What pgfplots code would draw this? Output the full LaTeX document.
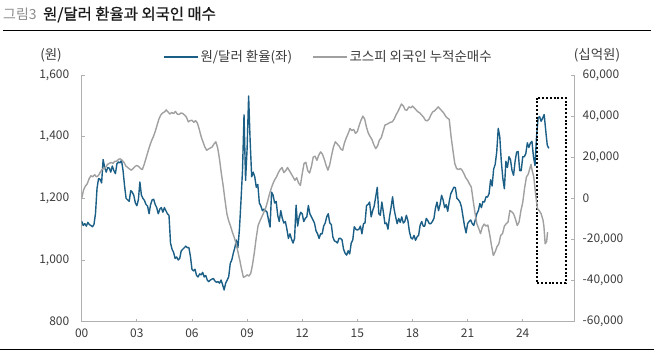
\documentclass[border=0pt]{standalone}
\usepackage{pgfplots}
\pgfplotsset{compat=1.18}
\usepackage{pgfplotstable}
\usepackage{fontspec}
\setmainfont{Noto Sans CJK KR}
\newfontfamily\titlefont[FakeBold=1.0]{Noto Sans CJK KR}
\definecolor{fxblue}{RGB}{27,94,134}
\definecolor{kgray}{RGB}{160,160,160}
\definecolor{axgray}{RGB}{176,176,176}
\definecolor{txt}{RGB}{60,60,60}

\pgfplotstableread[row sep=\\]{
t v\\
0 1126\\ 1 1112\\ 2 1118\\ 3 1110\\ 4 1122\\ 5 1115\\ 6 1112\\ 7 1108\\ 8 1115\\ 9 1150\\ 10 1232\\ 11 1264\\
12 1262\\ 13 1250\\ 14 1326\\ 15 1300\\ 16 1285\\ 17 1300\\ 18 1298\\ 19 1285\\ 20 1305\\ 21 1290\\ 22 1280\\ 23 1312\\
24 1318\\ 25 1315\\ 26 1323\\ 27 1290\\ 28 1240\\ 29 1200\\ 30 1195\\ 31 1190\\ 32 1225\\ 33 1220\\ 34 1210\\ 35 1186\\
36 1176\\ 37 1195\\ 38 1253\\ 39 1210\\ 40 1200\\ 41 1193\\ 42 1180\\ 43 1175\\ 44 1150\\ 45 1180\\ 46 1195\\ 47 1197\\
48 1180\\ 49 1170\\ 50 1150\\ 51 1165\\ 52 1170\\ 53 1155\\ 54 1170\\ 55 1160\\ 56 1150\\ 57 1145\\ 58 1055\\ 59 1035\\
60 1025\\ 61 1005\\ 62 1010\\ 63 1000\\ 64 1005\\ 65 1030\\ 66 1035\\ 67 1040\\ 68 1045\\ 69 1040\\ 70 1040\\ 71 1012\\
72 970\\ 73 965\\ 74 970\\ 75 950\\ 76 945\\ 77 955\\ 78 952\\ 79 960\\ 80 945\\ 81 950\\ 82 935\\ 83 930\\
84 935\\ 85 938\\ 86 940\\ 87 932\\ 88 928\\ 89 930\\ 90 925\\ 91 935\\ 92 920\\ 93 903\\ 94 925\\ 95 935\\
96 946\\ 97 989\\ 98 1000\\ 99 1022\\ 100 1040\\ 101 1065\\ 102 1040\\ 103 1100\\ 104 1190\\ 105 1290\\ 106 1471\\ 107 1258\\
108 1360\\ 109 1532\\ 110 1385\\ 111 1270\\ 112 1285\\ 113 1270\\ 114 1236\\ 115 1245\\ 116 1185\\ 117 1175\\ 118 1160\\ 119 1165\\
120 1160\\ 121 1155\\ 122 1130\\ 123 1107\\ 124 1220\\ 125 1210\\ 126 1185\\ 127 1190\\ 128 1145\\ 129 1125\\ 130 1160\\ 131 1135\\
132 1120\\ 133 1125\\ 134 1100\\ 135 1070\\ 136 1085\\ 137 1068\\ 138 1055\\ 139 1070\\ 140 1178\\ 141 1110\\ 142 1140\\ 143 1155\\
144 1150\\ 145 1125\\ 146 1135\\ 147 1140\\ 148 1177\\ 149 1150\\ 150 1140\\ 151 1130\\ 152 1120\\ 153 1095\\ 154 1085\\ 155 1070\\
156 1085\\ 157 1085\\ 158 1110\\ 159 1120\\ 160 1140\\ 161 1150\\ 162 1120\\ 163 1115\\ 164 1075\\ 165 1062\\ 166 1060\\ 167 1055\\
168 1070\\ 169 1070\\ 170 1065\\ 171 1035\\ 172 1022\\ 173 1016\\ 174 1030\\ 175 1020\\ 176 1055\\ 177 1065\\ 178 1108\\ 179 1100\\
180 1097\\ 181 1100\\ 182 1110\\ 183 1085\\ 184 1118\\ 185 1120\\ 186 1177\\ 187 1180\\ 188 1188\\ 189 1140\\ 190 1160\\ 191 1175\\
192 1205\\ 193 1236\\ 194 1150\\ 195 1145\\ 196 1188\\ 197 1155\\ 198 1118\\ 199 1120\\ 200 1100\\ 201 1140\\ 202 1170\\ 203 1205\\
204 1165\\ 205 1140\\ 206 1118\\ 207 1135\\ 208 1122\\ 209 1140\\ 210 1120\\ 211 1125\\ 212 1145\\ 213 1128\\ 214 1092\\ 215 1072\\
216 1068\\ 217 1080\\ 218 1064\\ 219 1075\\ 220 1080\\ 221 1113\\ 222 1125\\ 223 1110\\ 224 1110\\ 225 1135\\ 226 1128\\ 227 1118\\
228 1118\\ 229 1125\\ 230 1135\\ 231 1168\\ 232 1188\\ 233 1160\\ 234 1180\\ 235 1210\\ 236 1195\\ 237 1170\\ 238 1180\\ 239 1158\\
240 1190\\ 241 1215\\ 242 1225\\ 243 1236\\ 244 1235\\ 245 1200\\ 246 1195\\ 247 1188\\ 248 1172\\ 249 1140\\ 250 1110\\ 251 1088\\
252 1118\\ 253 1125\\ 254 1130\\ 255 1118\\ 256 1112\\ 257 1130\\ 258 1150\\ 259 1160\\ 260 1183\\ 261 1170\\ 262 1190\\ 263 1188\\
264 1205\\ 265 1204\\ 266 1215\\ 267 1260\\ 268 1240\\ 269 1295\\ 270 1310\\ 271 1350\\ 272 1427\\ 273 1400\\ 274 1320\\ 275 1265\\
276 1231\\ 277 1320\\ 278 1300\\ 279 1335\\ 280 1325\\ 281 1290\\ 282 1275\\ 283 1320\\ 284 1350\\ 285 1352\\ 286 1290\\ 287 1290\\
288 1335\\ 289 1335\\ 290 1345\\ 291 1380\\ 292 1365\\ 293 1380\\ 294 1385\\ 295 1335\\ 296 1306\\ 297 1400\\ 298 1460\\ 299 1465\\
300 1450\\ 301 1460\\ 302 1472\\ 303 1420\\ 304 1373\\ 305 1362\\
}\usd

\pgfplotstableread[row sep=\\]{
x v\\
0.0 0\\ 0.1 4000\\ 0.2 6000\\ 0.3 7000\\ 0.4 9500\\ 0.5 11000\\ 0.6 10500\\ 0.7 11500\\ 0.8 10500\\ 0.9 11000\\
1.0 12500\\ 1.1 14000\\ 1.2 14500\\ 1.3 15000\\ 1.4 16500\\ 1.5 17000\\ 1.6 17500\\ 1.7 17000\\ 1.8 18000\\ 1.9 18000\\
2.0 19000\\ 2.1 19200\\ 2.2 18500\\ 2.3 17500\\ 2.4 15800\\ 2.5 15000\\ 2.6 14300\\ 2.7 13700\\ 2.8 14500\\ 2.9 15500\\
3.0 16000\\ 3.1 15500\\ 3.2 14500\\ 3.3 14000\\ 3.4 16500\\ 3.5 19500\\ 3.6 22500\\ 3.7 25500\\ 3.8 28000\\ 3.9 30000\\
4.0 32500\\ 4.1 35500\\ 4.2 38500\\ 4.3 40500\\ 4.4 41500\\ 4.5 42000\\ 4.6 43000\\ 4.7 42000\\ 4.8 41000\\ 4.9 41800\\
5.0 41200\\ 5.1 42300\\ 5.2 41000\\ 5.3 40800\\ 5.4 41500\\ 5.5 41300\\ 5.6 40500\\ 5.7 39500\\ 5.8 37200\\ 5.9 37800\\
6.0 38000\\ 6.1 37000\\ 6.2 37800\\ 6.3 36500\\ 6.4 33500\\ 6.5 30000\\ 6.6 27500\\ 6.7 25000\\ 6.8 23400\\ 6.9 24000\\
7.0 24500\\ 7.1 25000\\ 7.2 26500\\ 7.3 27500\\ 7.4 24500\\ 7.5 19000\\ 7.6 12000\\ 7.7 6000\\ 7.8 -1000\\ 7.9 -7500\\
8.0 -11000\\ 8.1 -13500\\ 8.2 -16500\\ 8.3 -19000\\ 8.4 -22000\\ 8.5 -26000\\ 8.6 -30000\\ 8.7 -34500\\ 8.8 -38400\\ 8.9 -38000\\
9.0 -37200\\ 9.1 -37800\\ 9.2 -36500\\ 9.3 -32000\\ 9.4 -26000\\ 9.5 -19000\\ 9.6 -13200\\ 9.7 -11000\\ 9.8 -9000\\ 9.9 -7000\\
10.0 -5000\\ 10.1 -2000\\ 10.2 1500\\ 10.3 4500\\ 10.4 7000\\ 10.5 9000\\ 10.6 10400\\ 10.7 12500\\ 10.8 14000\\ 10.9 15000\\
11.0 12500\\ 11.1 13500\\ 11.2 15000\\ 11.3 13500\\ 11.4 12000\\ 11.5 10400\\ 11.6 8800\\ 11.7 10000\\ 11.8 7500\\ 11.9 6300\\
12.0 12000\\ 12.1 17000\\ 12.2 17500\\ 12.3 13500\\ 12.4 12300\\ 12.5 15500\\ 12.6 20100\\ 12.7 20500\\ 12.8 18500\\ 12.9 21000\\
13.0 22600\\ 13.1 21500\\ 13.2 19000\\ 13.3 16000\\ 13.4 13700\\ 13.5 16500\\ 13.6 21000\\ 13.7 25000\\ 13.8 27500\\ 13.9 26500\\
14.0 25500\\ 14.1 24000\\ 14.2 23400\\ 14.3 27000\\ 14.4 29500\\ 14.5 31500\\ 14.6 34000\\ 14.7 33000\\ 14.8 33500\\ 14.9 31600\\
15.0 32500\\ 15.1 35500\\ 15.2 38000\\ 15.3 40000\\ 15.4 38500\\ 15.5 34500\\ 15.6 31600\\ 15.7 30000\\ 15.8 28500\\ 15.9 26000\\
16.0 24200\\ 16.1 25500\\ 16.2 28300\\ 16.3 29500\\ 16.4 32500\\ 16.5 35600\\ 16.6 36000\\ 16.7 36500\\ 16.8 37000\\ 16.9 37200\\
17.0 38500\\ 17.1 40500\\ 17.2 42100\\ 17.3 44000\\ 17.4 45900\\ 17.5 45000\\ 17.6 43000\\ 17.7 42900\\ 17.8 44500\\ 17.9 44000\\
18.0 44900\\ 18.1 44000\\ 18.2 43000\\ 18.3 42100\\ 18.4 41500\\ 18.5 40500\\ 18.6 39500\\ 18.7 38000\\ 18.8 37700\\ 18.9 38500\\
19.0 40500\\ 19.1 42100\\ 19.2 42500\\ 19.3 43500\\ 19.4 44500\\ 19.5 43500\\ 19.6 42500\\ 19.7 41500\\ 19.8 40000\\ 19.9 39000\\
20.0 38400\\ 20.1 30000\\ 20.2 23400\\ 20.3 17000\\ 20.4 14500\\ 20.5 14000\\ 20.6 14500\\ 20.7 13700\\ 20.8 12000\\ 20.9 10000\\
21.0 8800\\ 21.1 7000\\ 21.2 5500\\ 21.3 -1000\\ 21.4 -7000\\ 21.5 -12300\\ 21.6 -14500\\ 21.7 -17200\\ 21.8 -14000\\ 21.9 -12500\\
22.0 -13500\\ 22.1 -13000\\ 22.2 -17500\\ 22.3 -23000\\ 22.4 -27800\\ 22.5 -26000\\ 22.6 -23500\\ 22.7 -22100\\ 22.8 -18000\\ 22.9 -17200\\
23.0 -13500\\ 23.1 -12300\\ 23.2 -11600\\ 23.3 -5900\\ 23.4 -6500\\ 23.5 -7500\\ 23.6 -10000\\ 23.7 -13200\\ 23.8 -11500\\ 23.9 -6000\\
24.0 -2000\\ 24.1 5000\\ 24.2 10400\\ 24.3 11800\\ 24.4 15000\\ 24.45 16500\\ 24.5 14000\\ 24.6 10400\\ 24.7 2000\\ 24.8 -5000\\
24.9 -6000\\ 25.0 -7500\\ 25.1 -10500\\ 25.15 -13500\\ 25.22 -22100\\ 25.3 -21000\\ 25.35 -16400\\
}\kospi

\pgfplotsset{
  common/.style={
    at={(81.7bp,31.3bp)}, anchor=south west, scale only axis,
    width=492.5bp, height=246.7bp, xmin=0, xmax=26.8,
    axis line style={axgray, line width=0.8bp},
    tick align=inside, major tick length=3bp,
    tick style={axgray, line width=0.8bp},
    ticklabel style={font=\fontsize{12}{12}\selectfont, text=txt},
    scaled ticks=false,
  }
}

\begin{document}
\begin{tikzpicture}
\useasboundingbox (0,0) rectangle (654bp,353bp);
\node[anchor=west, inner sep=0pt, text=black!45, font=\fontsize{14}{14}\selectfont] at (3bp,338.5bp) {그림3};
\node[anchor=west, inner sep=0pt, text=black!90, font=\titlefont\fontsize{15.5}{15.5}\selectfont] at (43bp,338.5bp) {원/달러 환율과 외국인 매수};
\draw[line width=1bp] (3bp,322.7bp) -- (651bp,322.7bp);
\draw[line width=1bp] (0bp,3bp) -- (654bp,3bp);

\begin{axis}[common,
  ymin=800, ymax=1600,
  axis x line*=bottom, axis y line*=left,
  xtick={0,3,...,24}, xticklabels={00,03,06,09,12,15,18,21,24},
  xticklabel style={yshift=-4bp},
  ytick={800,1000,...,1600},
  yticklabels={800,{1,000},{1,200},{1,400},{1,600}},
  yticklabel style={xshift=-9bp},
]
\addplot[fxblue, line width=1.4bp, line join=round] table[x expr=\thisrow{t}/12, y=v] {\usd};
\draw[black, line width=2bp, dash pattern=on 2bp off 1.8bp] (axis cs:24.76,1527) rectangle (axis cs:26.34,925);
\end{axis}

\begin{axis}[common,
  ymin=-60000, ymax=60000,
  axis x line=none, axis y line*=right,
  ytick={-60000,-40000,...,60000},
  yticklabels={{-60,000},{-40,000},{-20,000},0,{20,000},{40,000},{60,000}},
  yticklabel style={xshift=5bp},
  legend style={at={(0.165,1.073)}, anchor=west, draw=none, fill=none,
    inner sep=0pt, legend columns=2, font=\fontsize{13.5}{14}\selectfont, text=txt,
    /tikz/every even column/.append style={column sep=18bp},
    legend cell align=left},
  legend image code/.code={\draw[#1] (0bp,0bp) -- (34bp,0bp);},
]
\addlegendimage{fxblue, line width=1.4bp}
\addlegendentry{원/달러 환율(좌)}
\addplot[kgray, line width=1.4bp, line join=round] table[x=x, y=v] {\kospi};
\addlegendentry{코스피 외국인 누적순매수}
\end{axis}

\node[text=txt, font=\fontsize{13.5}{14}\selectfont] at (51bp,298bp) {(원)};
\node[text=txt, font=\fontsize{13.5}{14}\selectfont] at (597bp,298bp) {(십억원)};
\end{tikzpicture}
\end{document}
